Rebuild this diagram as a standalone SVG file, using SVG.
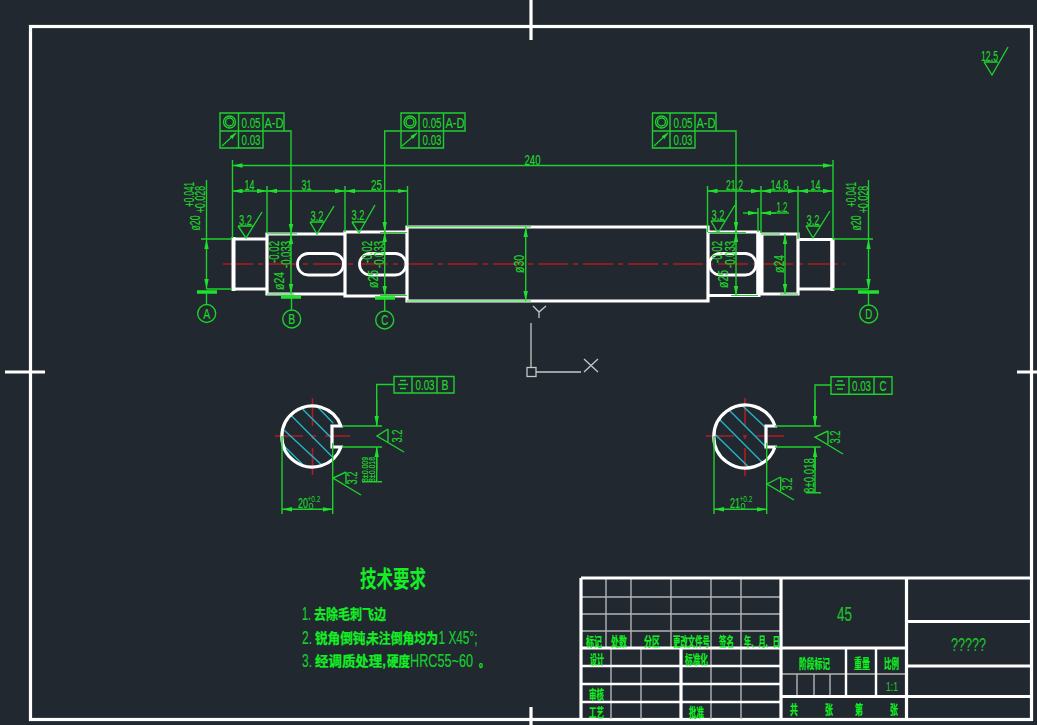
<svg xmlns="http://www.w3.org/2000/svg" width="1037" height="725" viewBox="0 0 1037 725">
<style>
text{font-family:"Liberation Sans","Noto Sans CJK SC",sans-serif}
.g{fill:none;stroke:#1fd02c;stroke-width:1.4}
.b{fill:none;stroke:#1fe02c;stroke-width:3.4}
.d{fill:none;stroke:#1fd02c;stroke-width:1.4;marker-end:url(#a)}
.dd{fill:none;stroke:#1fd02c;stroke-width:1.4;marker-end:url(#a);marker-start:url(#a)}
.s{fill:none;stroke:#1fd02c;stroke-width:1.2;marker-end:url(#s)}
.w{fill:none;stroke:#fff;stroke-width:3.2}
.w2{fill:none;stroke:#fff;stroke-width:2.4}
.gr{fill:none;stroke:#b4b4b4;stroke-width:1.4}
.r{fill:none;stroke:#8e1d22;stroke-width:2;stroke-dasharray:30 5 5 5}
.rc{fill:none;stroke:#b01c22;stroke-width:1.6;stroke-dasharray:28 9 4 9}
.h{fill:none;stroke:#25b4c4;stroke-width:1.4}
.i{fill:none;stroke:#c6c6c6;stroke-width:1.3}
.t{fill:#20d42c;stroke:#20d42c;stroke-width:.2;font-size:15px;text-anchor:middle}
.m{fill:#20d42c;font-size:9px;text-anchor:start}
.c{fill:#12f022;stroke:#12f022;stroke-width:.2;font-size:13px;font-weight:bold;text-anchor:middle}
.n{fill:#1fc02c;stroke:#1fc02c;stroke-width:.2;text-anchor:middle}
.l{fill:#18d02c;stroke:#18d02c;stroke-width:.15;font-size:18px}
.k{fill:#14ee24;stroke:#14ee24;stroke-width:.25;font-size:14px;font-weight:bold}
</style>
<defs>
<marker id="a" markerUnits="userSpaceOnUse" markerWidth="12" markerHeight="6" refX="10" refY="3" orient="auto-start-reverse"><path d="M0 .8 L10 3 L0 5.200Z" fill="#1fe02c"/></marker>
<marker id="s" markerUnits="userSpaceOnUse" markerWidth="8" markerHeight="6" refX="7" refY="3" orient="auto"><path d="M0 1 L7 3 L0 5Z" fill="#1fe02c"/></marker>
</defs>
<rect width="1037" height="725" fill="#212830"/>

<g id="frame">
<rect class="w" x="30.500" y="26.500" width="1001" height="693"/>
<path class="w" d="M531 0V40M531 707V725M5 372H45M1017 372H1037"/>
</g>

<g id="ucs">
<path class="i" d="M531 323V367M536 372H581M533 306L539 312L546 306M539 312V318M584 359L598 372M598 359L584 372"/>
<rect class="i" x="527" y="367.500" width="9" height="9"/>
</g>

<g id="shaft">
<path class="r" d="M223 264H844"/>
<path class="w" d="M233 239H267M233 289H267M267 234H345V294H267ZM345 232H407V296H345ZM407 227H708V301H407ZM708 232H758V295.500H708ZM761 234H798V294H761ZM798 239.500H832V289H798Z"/>
<path class="w" d="M233.500 237V291M832.500 238V291M761.500 233V295M758.500 231V297" style="stroke-width:4"/>
<rect class="w2" x="297.500" y="253.500" width="46" height="21.500" rx="10.700" style="stroke-width:2.800"/>
<rect class="w2" x="359.500" y="253.500" width="46.500" height="21.500" rx="10.700" style="stroke-width:2.800"/>
<rect class="w2" x="709.500" y="253.500" width="46.500" height="21.500" rx="10.700" style="stroke-width:2.800"/>
<path class="g" d="M407 226.800H531M407 301H531M267 233.800H297M267 294H294M380 232.500H407M380 295.500H407M708 232.500H746M731 295.500H758M761 234H780M780 294H798" style="stroke-width:1"/>
</g>

<g id="dimensions">
<path class="g" d="M232.500 160V238M267 186V233M345 186V232M407.500 186V226M707.500 186V232M761 186V233M798 186V239M833 160V239M758 208V232"/>
<path class="dd" d="M232.500 165.500H833"/>
<path class="dd" d="M232.500 191H267"/><path class="dd" d="M267 191H345"/><path class="dd" d="M345 191H407.500"/>
<path class="dd" d="M707.500 191H761"/><path class="dd" d="M761 191H798"/><path class="dd" d="M798 191H833"/>
<path class="d" d="M743 213H758"/><path class="g" d="M761 213H789"/><path class="d" d="M776 213H761"/>
<path class="dd" d="M525.700 227V301"/>
<path class="dd" d="M785 234V294"/>
<path class="g" d="M201 239H232M206.500 289H232M206.500 180V239M833 239H873M833 289H868.500M868.500 180V239"/>
<path class="dd" d="M206.500 239V289"/><path class="dd" d="M868.500 239V289"/>
<text class="t" x="532.500" y="165" textLength="16" lengthAdjust="spacingAndGlyphs">240</text>
<text class="t" x="249.500" y="190" textLength="10" lengthAdjust="spacingAndGlyphs">14</text>
<text class="t" x="306.500" y="190" textLength="10" lengthAdjust="spacingAndGlyphs">31</text>
<text class="t" x="376.500" y="190" textLength="11" lengthAdjust="spacingAndGlyphs">25</text>
<text class="t" x="734.500" y="190" textLength="17" lengthAdjust="spacingAndGlyphs">21.2</text>
<text class="t" x="779.500" y="190" textLength="18" lengthAdjust="spacingAndGlyphs">14.8</text>
<text class="t" x="815.500" y="190" textLength="10" lengthAdjust="spacingAndGlyphs">14</text>
<text class="t" x="782" y="212" textLength="11" lengthAdjust="spacingAndGlyphs">1.2</text>
<text class="t" transform="rotate(-90 524 264)" x="524" y="264" textLength="18" lengthAdjust="spacingAndGlyphs">ø30</text>
<text class="t" transform="rotate(-90 784 264)" x="784" y="264" textLength="18" lengthAdjust="spacingAndGlyphs">ø24</text>
<text class="t" transform="rotate(-90 200 223)" x="200" y="223" textLength="15" lengthAdjust="spacingAndGlyphs">ø20</text>
<text class="t" transform="rotate(-90 194 194.500)" x="194" y="194.500" textLength="25" lengthAdjust="spacingAndGlyphs">+0.041</text>
<text class="t" transform="rotate(-90 205 199.500)" x="205" y="199.500" textLength="27" lengthAdjust="spacingAndGlyphs">+0.028</text>
<text class="t" transform="rotate(-90 861 223)" x="861" y="223" textLength="15" lengthAdjust="spacingAndGlyphs">ø20</text>
<text class="t" transform="rotate(-90 856 194.500)" x="856" y="194.500" textLength="25" lengthAdjust="spacingAndGlyphs">+0.041</text>
<text class="t" transform="rotate(-90 868 199.500)" x="868" y="199.500" textLength="27" lengthAdjust="spacingAndGlyphs">+0.028</text>
<text class="t" transform="rotate(-90 284 281)" x="284" y="281" textLength="18" lengthAdjust="spacingAndGlyphs">ø24</text>
<text class="t" transform="rotate(-90 279 252)" x="279" y="252" textLength="22" lengthAdjust="spacingAndGlyphs">-0.02</text>
<text class="t" transform="rotate(-90 291 254.500)" x="291" y="254.500" textLength="27" lengthAdjust="spacingAndGlyphs">-0.033</text>
<text class="t" transform="rotate(-90 378 279)" x="378" y="279" textLength="18" lengthAdjust="spacingAndGlyphs">ø25</text>
<text class="t" transform="rotate(-90 372 252)" x="372" y="252" textLength="22" lengthAdjust="spacingAndGlyphs">-0.02</text>
<text class="t" transform="rotate(-90 384 254.500)" x="384" y="254.500" textLength="27" lengthAdjust="spacingAndGlyphs">-0.033</text>
<text class="t" transform="rotate(-90 728 279)" x="728" y="279" textLength="18" lengthAdjust="spacingAndGlyphs">ø25</text>
<text class="t" transform="rotate(-90 722 252)" x="722" y="252" textLength="22" lengthAdjust="spacingAndGlyphs">-0.02</text>
<text class="t" transform="rotate(-90 735 254.500)" x="735" y="254.500" textLength="27" lengthAdjust="spacingAndGlyphs">-0.033</text>
</g>

<g id="datums">
<path class="g" d="M206.500 292V304M291.500 297V310M384.700 298V311M868.500 292V305"/>
<path class="b" d="M197 292H217M281 297H301M375 298H395M858 292H879"/>
<circle class="g" cx="206.700" cy="313.500" r="9"/><circle class="g" cx="291.700" cy="319" r="9"/><circle class="g" cx="384.700" cy="320" r="9"/><circle class="g" cx="868.700" cy="314" r="9"/>
<text class="t" x="206.700" y="318.500" textLength="7" lengthAdjust="spacingAndGlyphs">A</text>
<text class="t" x="291.700" y="324" textLength="7" lengthAdjust="spacingAndGlyphs">B</text>
<text class="t" x="384.700" y="325" textLength="7" lengthAdjust="spacingAndGlyphs">C</text>
<text class="t" x="868.700" y="319" textLength="7" lengthAdjust="spacingAndGlyphs">D</text>
</g>

<g id="fcf-1">
<path class="g" d="M220 113H284V131H220ZM220 131H263V148H220ZM238.500 113V148M263 113V131M284 131H291V234"/>
<path class="d" d="M291 200V234"/><path class="dd" d="M291 234V294"/>
<circle class="g" cx="229.500" cy="122" r="6"/><circle class="g" cx="229.500" cy="122" r="4"/>
<path class="s" d="M222 146L236 133"/>
<text class="t" x="251" y="127.500" textLength="19" lengthAdjust="spacingAndGlyphs">0.05</text>
<text class="t" x="274" y="127.500" textLength="19" lengthAdjust="spacingAndGlyphs">A-D</text>
<text class="t" x="251" y="145" textLength="19" lengthAdjust="spacingAndGlyphs">0.03</text>
</g>
<g id="fcf-2">
<path class="g" d="M401 113H465V131H401ZM401 131H443.500V148H401ZM419 113V148M443.500 113V131M401 131H384.700V232"/>
<path class="d" d="M384.700 200V232"/><path class="dd" d="M384.700 232V296"/>
<circle class="g" cx="410" cy="122" r="6"/><circle class="g" cx="410" cy="122" r="4"/>
<path class="s" d="M402 146L417 133"/>
<text class="t" x="432" y="127.500" textLength="19" lengthAdjust="spacingAndGlyphs">0.05</text>
<text class="t" x="455" y="127.500" textLength="19" lengthAdjust="spacingAndGlyphs">A-D</text>
<text class="t" x="432" y="145" textLength="19" lengthAdjust="spacingAndGlyphs">0.03</text>
</g>
<g id="fcf-3">
<path class="g" d="M652.500 113H716V131H652.500ZM652.500 131H695V148H652.500ZM670 113V148M695 113V131M716 131H736V232"/>
<path class="d" d="M736 200V232"/><path class="dd" d="M736 232V296"/>
<circle class="g" cx="661.500" cy="122" r="6"/><circle class="g" cx="661.500" cy="122" r="4"/>
<path class="s" d="M654 146L668 133"/>
<text class="t" x="683" y="127.500" textLength="19" lengthAdjust="spacingAndGlyphs">0.05</text>
<text class="t" x="706" y="127.500" textLength="19" lengthAdjust="spacingAndGlyphs">A-D</text>
<text class="t" x="683" y="145" textLength="19" lengthAdjust="spacingAndGlyphs">0.03</text>
</g>

<g id="roughness">
<path class="g" d="M238 226H253M238 226L246 238L262 212"/><text class="t" x="245.500" y="224.500" textLength="13" lengthAdjust="spacingAndGlyphs">3.2</text>
<path class="g" d="M310 222H324M310 222L317 234L334 206"/><text class="t" x="317" y="220.500" textLength="13" lengthAdjust="spacingAndGlyphs">3.2</text>
<path class="g" d="M352 222H366M352 222L359 233L375 205"/><text class="t" x="358" y="219.500" textLength="13" lengthAdjust="spacingAndGlyphs">3.2</text>
<path class="g" d="M711 221H725M711 221L718 233L735 205"/><text class="t" x="718" y="219.500" textLength="13" lengthAdjust="spacingAndGlyphs">3.2</text>
<path class="g" d="M806 226H821M806 226L813 238L830 211"/><text class="t" x="813" y="224.500" textLength="13" lengthAdjust="spacingAndGlyphs">3.2</text>
<path class="g" d="M984 62H998M984 62L992 75L1008 47"/><text class="t" x="989.500" y="61" textLength="17" lengthAdjust="spacingAndGlyphs">12.5</text>
</g>

<g id="section-b">
<path class="rc" d="M275 436H350M312.500 398V475"/>
<path class="h" d="M316.700 406L333.300 423.300M302.700 409.300L331.700 438.300M290.700 415L332.700 457.300M284 430L321.700 465M284 446L303.300 465"/>
<path class="w" d="M341 426H332V447H341A30.500 30.500 0 1 1 341 426Z"/>
<path class="g" d="M342 426H382M342 447H382M282 436V514M332.700 443V514M394 384.500H376.700V426M376.700 447V482M362 481.700H382"/>
<path class="d" d="M376.700 400V426"/><path class="d" d="M376.700 470V447"/>
<path class="dd" d="M282 509.300H332.700"/>
<path class="g" d="M388 429L377 436L404 452M388 429V443M346 472L333 478L361 495M346 472V484"/>
<text class="t" transform="rotate(-90 402 436)" x="402" y="436" textLength="13" lengthAdjust="spacingAndGlyphs">3.2</text>
<text class="t" transform="rotate(-90 357 478)" x="357" y="478" textLength="13" lengthAdjust="spacingAndGlyphs">3.2</text>
<text class="t" transform="rotate(-90 368 469.500)" x="368" y="469.500" style="font-size:9px" textLength="25" lengthAdjust="spacingAndGlyphs">8±0.009</text>
<text class="t" transform="rotate(-90 375 469.500)" x="375" y="469.500" style="font-size:9px" textLength="25" lengthAdjust="spacingAndGlyphs">8±0.018</text>
<text class="t" x="303" y="508" textLength="10" lengthAdjust="spacingAndGlyphs">20</text>
<text class="m" x="308.500" y="509">0</text>
<text class="m" x="307.500" y="501.500" textLength="13" lengthAdjust="spacingAndGlyphs">+0.2</text>
<path class="g" d="M394 376.500H454V393H394ZM412 376.500V393M437 376.500V393M400 380.500H406M398 384.500H408M400 388.500H406"/>
<text class="t" x="425" y="390" textLength="19" lengthAdjust="spacingAndGlyphs">0.03</text>
<text class="t" x="445" y="390" textLength="7" lengthAdjust="spacingAndGlyphs">B</text>
</g>

<g id="section-c">
<path class="rc" d="M706 436H785M745 398V476"/>
<path class="h" d="M741.700 405L765 427M728.300 409.300L766 447M719.300 419.300L761.700 461.700M714 433.300L749.300 467.700"/>
<path class="w" d="M775 426H766V447H775A31.500 31.500 0 1 1 775 426Z"/>
<path class="g" d="M775 426H820.700M775 447H820.700M714 436V514M766.700 443V514M831 385H815V426M815 447V492.700M806 492.700H821"/>
<path class="d" d="M815 400V426"/><path class="d" d="M815 470V447"/>
<path class="dd" d="M714 509.300H766.700"/>
<path class="g" d="M828 431L815 437L843 454M828 431V444M780.700 477L767 484L794 500M780.700 477V491"/>
<text class="t" transform="rotate(-90 840 437)" x="840" y="437" textLength="13" lengthAdjust="spacingAndGlyphs">3.2</text>
<text class="t" transform="rotate(-90 792 484)" x="792" y="484" textLength="13" lengthAdjust="spacingAndGlyphs">3.2</text>
<text class="t" transform="rotate(-90 814 475.500)" x="814" y="475.500" textLength="35" lengthAdjust="spacingAndGlyphs">8±0.018</text>
<text class="t" x="735" y="508" textLength="10" lengthAdjust="spacingAndGlyphs">21</text>
<text class="m" x="740.500" y="509">0</text>
<text class="m" x="739.500" y="501.500" textLength="13" lengthAdjust="spacingAndGlyphs">+0.2</text>
<path class="g" d="M831 376.700H892V394.300H831ZM849 376.700V394.300M874 376.700V394.300M837 381H843M835 385H845M837 389H843"/>
<text class="t" x="861.500" y="390.500" textLength="19" lengthAdjust="spacingAndGlyphs">0.03</text>
<text class="t" x="883" y="390.500" textLength="7" lengthAdjust="spacingAndGlyphs">C</text>
</g>

<g id="requirements">
<text x="393" y="587" style="font-size:23px;font-weight:bold;fill:#14ee24;text-anchor:middle" textLength="66" lengthAdjust="spacingAndGlyphs">技术要求</text>
<text class="l" x="302" y="619.500" textLength="9" lengthAdjust="spacingAndGlyphs">1.</text>
<text class="k" x="314" y="619" textLength="72" lengthAdjust="spacingAndGlyphs">去除毛刺飞边</text>
<text class="l" x="302" y="643.500" textLength="10" lengthAdjust="spacingAndGlyphs">2.</text>
<text class="k" x="315" y="643" textLength="54" lengthAdjust="spacingAndGlyphs">锐角倒钝,</text>
<text class="k" x="367" y="643" textLength="71" lengthAdjust="spacingAndGlyphs">未注倒角均为</text>
<text class="l" x="438.500" y="643.500" textLength="39" lengthAdjust="spacingAndGlyphs">1 X45°;</text>
<text class="l" x="302" y="666.500" textLength="10" lengthAdjust="spacingAndGlyphs">3.</text>
<text class="k" x="315" y="666" textLength="71" lengthAdjust="spacingAndGlyphs">经调质处理,</text>
<text class="k" x="387" y="666" textLength="23" lengthAdjust="spacingAndGlyphs">硬度</text>
<text class="l" x="410" y="666.500" textLength="63" lengthAdjust="spacingAndGlyphs">HRC55~60</text>
<text class="k" x="479" y="666" textLength="10" lengthAdjust="spacingAndGlyphs">。</text>
</g>

<g id="title-block">
<path class="gr" d="M581 597H781M581 614H781M581 631H781M606 578V648M631 578V648M671 578V648M711 578V648M741 578V648M611 648V719M641 648V719M711 648V719M741 648V719M781 674H906M797 674V696M814 674V696M830 674V696"/>
<path class="w2" d="M581 666H781M581 684H781M581 702H781M846 648V696M876 648V696"/>
<path class="w" d="M581 578H1031M581 578V719M781 578V719M906.500 578V719M581 648H906.500M906.500 621.500H1031M906.500 666H1031M781 696.500H1031M681 648V719"/>
<text class="c" x="594" y="646" textLength="16" lengthAdjust="spacingAndGlyphs">标记</text>
<text class="c" x="619" y="646" textLength="16" lengthAdjust="spacingAndGlyphs">处数</text>
<text class="c" x="652" y="646" textLength="16" lengthAdjust="spacingAndGlyphs">分区</text>
<text class="c" x="691.500" y="646" textLength="37" lengthAdjust="spacingAndGlyphs">更改文件号</text>
<text class="c" x="726.500" y="646" textLength="15" lengthAdjust="spacingAndGlyphs">签名</text>
<text class="c" x="762" y="646" textLength="36" lengthAdjust="spacingAndGlyphs">年、月、日</text>
<text class="c" x="597" y="664" textLength="14" lengthAdjust="spacingAndGlyphs">设计</text>
<text class="c" x="696.500" y="664" textLength="23" lengthAdjust="spacingAndGlyphs">标准化</text>
<text class="c" x="596.500" y="699" textLength="15" lengthAdjust="spacingAndGlyphs">审核</text>
<text class="c" x="596.500" y="716.500" textLength="15" lengthAdjust="spacingAndGlyphs">工艺</text>
<text class="c" x="696.500" y="716.500" textLength="15" lengthAdjust="spacingAndGlyphs">批准</text>
<text class="c" x="814.500" y="668" textLength="31" lengthAdjust="spacingAndGlyphs">阶段标记</text>
<text class="c" x="862" y="668" textLength="16" lengthAdjust="spacingAndGlyphs">重量</text>
<text class="c" x="891.500" y="668" textLength="15" lengthAdjust="spacingAndGlyphs">比例</text>
<text class="c" x="794" y="713.500" textLength="8" lengthAdjust="spacingAndGlyphs">共</text>
<text class="c" x="829" y="713.500" textLength="8" lengthAdjust="spacingAndGlyphs">张</text>
<text class="c" x="859" y="713.500" textLength="8" lengthAdjust="spacingAndGlyphs">第</text>
<text class="c" x="894" y="713.500" textLength="8" lengthAdjust="spacingAndGlyphs">张</text>
<text class="n" x="844.500" y="621" style="font-size:20px" textLength="15" lengthAdjust="spacingAndGlyphs">45</text>
<text class="n" x="968.500" y="651" style="font-size:19px" textLength="35" lengthAdjust="spacingAndGlyphs">?????</text>
<text class="n" x="892" y="690.500" style="font-size:13px" textLength="12" lengthAdjust="spacingAndGlyphs">1:1</text>
</g>
</svg>
